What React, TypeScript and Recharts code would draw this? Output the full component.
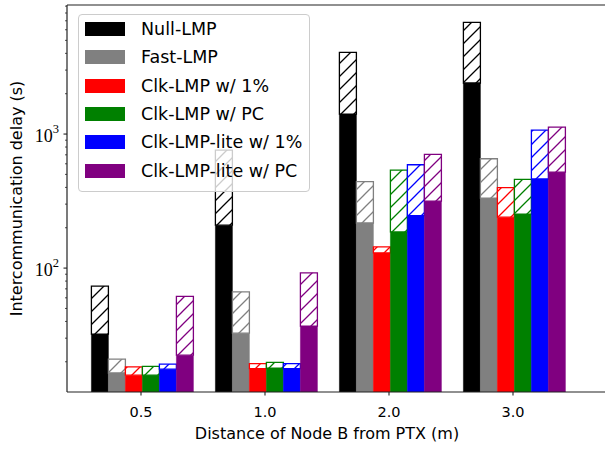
import { BarChart, Bar, XAxis, YAxis, Legend, ReferenceLine, Label } from 'recharts';

const categories = ['0.5', '1.0', '2.0', '3.0'];
const seriesNames = ['Null-LMP', 'Fast-LMP', 'Clk-LMP w/ 1%', 'Clk-LMP w/ PC', 'Clk-LMP-lite w/ 1%', 'Clk-LMP-lite w/ PC'];
const seriesColors = ['#000000', '#808080', '#ff0000', '#008000', '#0000ff', '#800080'];

// solid (lower) part and full height (top of hatched part), per category
const nullSolid = [32.2, 209, 1410, 2403];
const nullTotal = [73.4, 760, 4072, 6816];
const fastSolid = [16.5, 32.7, 217, 333];
const fastTotal = [20.9, 66.5, 441, 654];
const clkPctSolid = [15.9, 17.8, 130, 240];
const clkPctTotal = [18.3, 19.4, 144, 398];
const clkPcSolid = [15.9, 17.9, 186, 253];
const clkPcTotal = [18.5, 19.8, 539, 459];
const litePctSolid = [17.6, 17.8, 246, 462];
const litePctTotal = [19.2, 19.4, 590, 1071];
const litePcSolid = [22.4, 36.9, 316, 520];
const litePcTotal = [61.5, 92.2, 706, 1128];

const yDomain = [11.9, 9180];
const yMajorTicks = [100, 1000];
const yMinorTicks = [20, 30, 40, 50, 60, 70, 80, 90, 200, 300, 400, 500, 600, 700, 800, 900, 2000, 3000, 4000, 5000, 6000, 7000, 8000, 9000];

const solids = [nullSolid, fastSolid, clkPctSolid, clkPcSolid, litePctSolid, litePcSolid];
const totals = [nullTotal, fastTotal, clkPctTotal, clkPcTotal, litePctTotal, litePcTotal];

const data = categories.map((name, j) => {
  const row: Record<string, string | number> = { name };
  solids.forEach((s, i) => {
    row[`s${i}`] = s[j];
    row[`h${i}`] = totals[i][j] - s[j];
  });
  return row;
});

const AXIS = '#222';
const PAD_LEFT = 12;
const PAD_RIGHT = 65;
const HATCH = 13;

const XTick = ({ x, y, payload }: any) => (
  <g>
    <line x1={x} x2={x} y1={y} y2={y + 3.5} stroke={AXIS} strokeWidth={1.1} />
    <text x={x} y={y + 25} textAnchor="middle" fontFamily="DejaVu Sans" fontSize={14.5} fill="#000">
      {payload.value}
    </text>
  </g>
);

const YTick = ({ x, y, payload }: any) => {
  const v = payload.value;
  const major = yMajorTicks.includes(v);
  const exp = Math.round(Math.log10(v));
  return (
    <g>
      <line x1={x} x2={x - (major ? 3.5 : 2)} y1={y} y2={y} stroke={AXIS} strokeWidth={major ? 1.1 : 0.8} />
      {major && (
        <text x={x - 8} y={y + 7.5} textAnchor="end" fontFamily="Liberation Serif" fontSize={18} fill="#000">
          10
          <tspan dy={-9} fontSize={12.5}>{exp}</tspan>
        </text>
      )}
    </g>
  );
};

const LegendBox = () => (
  <div
    style={{
      boxSizing: 'border-box',
      width: 232,
      height: 178,
      background: 'rgba(255,255,255,0.8)',
      border: '1px solid #cccccc',
      borderRadius: 4,
      paddingLeft: 6,
      fontFamily: 'DejaVu Sans',
      fontSize: 17.5,
      color: '#000',
    }}
  >
    {seriesNames.map((n, i) => (
      <div key={n} style={{ display: 'flex', alignItems: 'center', height: 28.3, whiteSpace: 'nowrap' }}>
        <span style={{ display: 'inline-block', width: 40, height: 14, background: seriesColors[i], marginRight: 16 }} />
        <span>{n}</span>
      </div>
    ))}
  </div>
);

export default function App() {
  return (
    <div style={{ position: 'absolute', left: 0, top: 0, width: 605, height: 449, overflow: 'hidden', background: '#fff' }}>
      <BarChart
        width={640}
        height={449}
        data={data}
        margin={{ top: 5, right: 0, bottom: 0, left: 0 }}
        barCategoryGap="10%"
        barGap={0}
      >
        <defs>
          {seriesColors.map((c, i) => (
            <pattern key={c} id={`hatch${i}`} patternUnits="userSpaceOnUse" width={HATCH} height={HATCH}>
              <rect width={HATCH} height={HATCH} fill="#fff" />
              <path
                d={`M0,${HATCH} L${HATCH},0 M-2,2 L2,-2 M${HATCH - 2},${HATCH + 2} L${HATCH + 2},${HATCH - 2}`}
                stroke={c}
                strokeWidth={1.3}
              />
            </pattern>
          ))}
        </defs>
        <XAxis
          dataKey="name"
          type="category"
          interval={0}
          height={57}
          padding={{ left: PAD_LEFT, right: PAD_RIGHT }}
          tickSize={0}
          tickMargin={0}
          tickLine={false}
          axisLine={{ stroke: AXIS, strokeWidth: 1.2 }}
          tick={<XTick />}
        >
          <Label
            content={({ viewBox }: any) => (
              <text
                x={viewBox.x + PAD_LEFT + (viewBox.width - PAD_LEFT - PAD_RIGHT) / 2}
                y={438.5}
                textAnchor="middle"
                fontFamily="DejaVu Sans"
                fontSize={16}
                fill="#000"
              >
                Distance of Node B from PTX (m)
              </text>
            )}
          />
        </XAxis>
        <YAxis
          scale="log"
          type="number"
          domain={yDomain}
          allowDataOverflow
          ticks={[...yMinorTicks, ...yMajorTicks].sort((a, b) => a - b)}
          interval={0}
          width={67}
          tickSize={0}
          tickMargin={0}
          tickLine={false}
          axisLine={{ stroke: AXIS, strokeWidth: 1.2 }}
          tick={<YTick />}
        >
          <Label
            content={({ viewBox }: any) => (
              <text
                x={22}
                y={viewBox.y + viewBox.height / 2}
                transform={`rotate(-90 22 ${viewBox.y + viewBox.height / 2})`}
                textAnchor="middle"
                fontFamily="DejaVu Sans"
                fontSize={16}
                fill="#000"
              >
                Intercommunication delay (s)
              </text>
            )}
          />
        </YAxis>
        <ReferenceLine y={yDomain[1]} stroke={AXIS} strokeWidth={1.2} />
        {seriesColors.flatMap((c, i) => [
          <Bar key={`s${i}`} dataKey={`s${i}`} stackId={`g${i}`} fill={c} stroke={c} strokeWidth={0.5} isAnimationActive={false} />,
          <Bar key={`h${i}`} dataKey={`h${i}`} stackId={`g${i}`} fill={`url(#hatch${i})`} stroke={c} strokeWidth={1.3} isAnimationActive={false} />,
        ])}
        <Legend
          layout="vertical"
          align="center"
          verticalAlign="middle"
          content={<LegendBox />}
          wrapperStyle={{ left: 78, top: 14, width: 232, height: 178 }}
        />
      </BarChart>
    </div>
  );
}
